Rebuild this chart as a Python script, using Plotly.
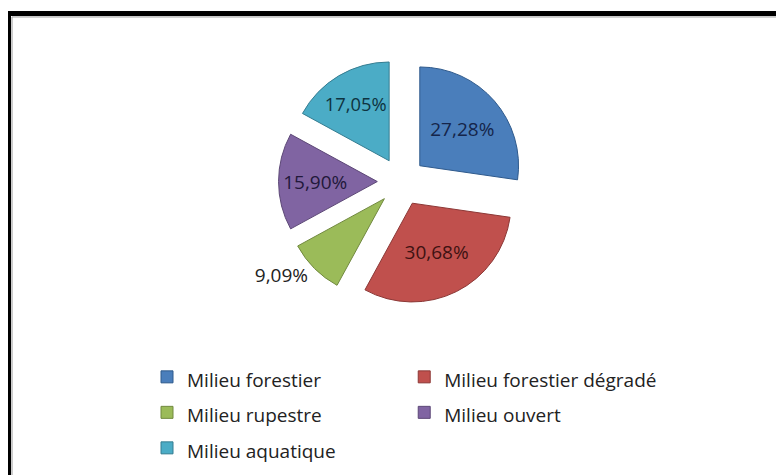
import plotly.graph_objects as go

labels = ["Milieu forestier", "Milieu forestier dégradé", "Milieu rupestre",
          "Milieu ouvert", "Milieu aquatique"]
values = [27.28, 30.68, 9.09, 15.90, 17.05]
colors = ["#4A7EBB", "#C0504D", "#9BBB59", "#8064A2", "#4BACC6"]
edge_colors = ["#2F5A8C", "#8C3836", "#71893F", "#5C4776", "#357D91"]
text_colors = ["#15254a", "#3e1212", "#1f2a0e", "#22183a", "#0e3340"]
text_positions = ["inside", "inside", "outside", "inside", "inside"]

texts = [f"{v:.2f}".replace(".", ",") + "%" for v in values]
legend_labels = [f'<span style="font-size:19px">{l}</span>' for l in labels]

# page body has an 8px margin: figure px = screen px - 8
W, H = 784, 475
MR = 60
PW = W - MR
cx, cy = 393.5, 171
r_total = 124

fig = go.Figure(go.Pie(
    labels=legend_labels,
    values=values,
    text=texts,
    textinfo="text",
    textposition=text_positions,
    insidetextorientation="horizontal",
    insidetextfont=dict(family="Open Sans", size=19, color=text_colors),
    outsidetextfont=dict(family="Open Sans", size=19, color="#222222"),
    marker=dict(colors=colors, line=dict(color=edge_colors, width=1)),
    pull=[0.245] * 5,
    sort=False,
    direction="clockwise",
    rotation=0,
    hovertext=labels,
    hoverinfo="text+percent",
    domain=dict(x=[(cx - r_total) / PW, (cx + r_total) / PW],
                y=[(H - cy - r_total) / H, (H - cy + r_total) / H]),
))

fig.update_layout(
    width=W, height=H,
    margin=dict(l=0, r=MR, t=0, b=0),
    paper_bgcolor="white",
    font=dict(family="Open Sans", size=19, color="#222222"),
    showlegend=True,
    legend=dict(
        orientation="h",
        x=139 / PW, xanchor="left",
        y=1 - 345 / H, yanchor="top",
        font=dict(family="Open Sans", size=25, color="#222222"),
        bgcolor="rgba(0,0,0,0)",
    ),
    shapes=[
        dict(type="rect", xref="paper", yref="paper",
             x0=0.5 / PW, x1=1.2, y0=-0.05, y1=1 - 1.5 / H,
             line=dict(color="black", width=5)),
        dict(type="rect", xref="paper", yref="paper",
             x0=4 / PW, x1=1.2, y0=-0.05, y1=1 - 5 / H,
             line=dict(color="#9a9a9a", width=1)),
    ],
)

fig.write_html("out.html")
